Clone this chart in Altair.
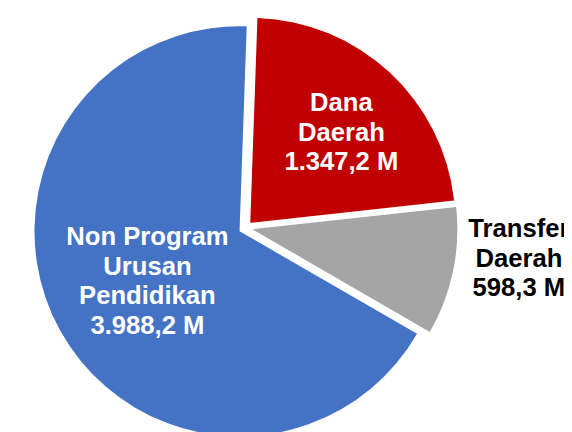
import math
import altair as alt
import pandas as pd

categories = ["Dana Daerah", "Transfer Daerah", "Non Program Urusan Pendidikan"]
values = [1347.2, 598.3, 3988.2]
labels = ["Dana\nDaerah\n1.347,2 M", "Transfer\nDaerah\n598,3 M",
          "Non Program\nUrusan\nPendidikan\n3.988,2 M"]
colors = ["#C00000", "#A5A5A5", "#4472C4"]
text_colors = ["white", "black", "white"]

# layout (styling, not data)
CX, CY = 241, 220
R = 208
EXPLODE = 7
ROT = math.radians(2)
LH = 30
label_radius = [127, 262, 108]
label_dx = [6, 14, 1]
label_dy = [2, -24, -1]

total = sum(values)
df = pd.DataFrame({"cat": categories, "value": values, "label": labels,
                   "order": list(range(len(categories)))})

theta_scale = alt.Scale(domain=[0, total], range=[ROT, ROT + 2 * math.pi])
color_scale = alt.Scale(domain=categories, range=colors)

base = alt.Chart(df).transform_window(
    cum="sum(value)", sort=[alt.SortField("order")], frame=[None, 0]
).transform_calculate(
    start="datum.cum - datum.value",
    mid="datum.cum - datum.value / 2",
)

layers = []
cum = 0
for i, cat in enumerate(categories):
    mid_val = cum + values[i] / 2
    cum += values[i]
    a = ROT + 2 * math.pi * mid_val / total
    ox = EXPLODE * math.sin(a)
    oy = -EXPLODE * math.cos(a)
    n_lines = labels[i].count("\n") + 1
    sub = base.transform_filter(alt.datum.cat == cat)
    arc = sub.mark_arc(radius=R).encode(
        theta=alt.Theta("start:Q", scale=theta_scale, stack=None),
        theta2="cum:Q",
        color=alt.Color("cat:N", scale=color_scale, legend=None),
        x=alt.value(CX + ox),
        y=alt.value(CY + oy),
    )
    txt = sub.mark_text(
        radius=label_radius[i], fontSize=26, fontWeight="bold",
        font="Liberation Sans", lineBreak="\n", lineHeight=LH,
        color=text_colors[i], align="center", baseline="middle",
        dx=label_dx[i], dy=label_dy[i] - (n_lines - 1) * LH / 2,
    ).encode(
        theta=alt.Theta("mid:Q", scale=theta_scale, stack=None),
        text="label:N",
        x=alt.value(CX + ox),
        y=alt.value(CY + oy),
    )
    layers += [arc, txt]

chart = alt.layer(*layers).properties(
    width=564, height=424, padding=0,
    autosize=alt.AutoSizeParams(type="none"),
).configure_view(stroke=None)

chart.save("out.html", embed_options={"renderer": "svg", "actions": False})
